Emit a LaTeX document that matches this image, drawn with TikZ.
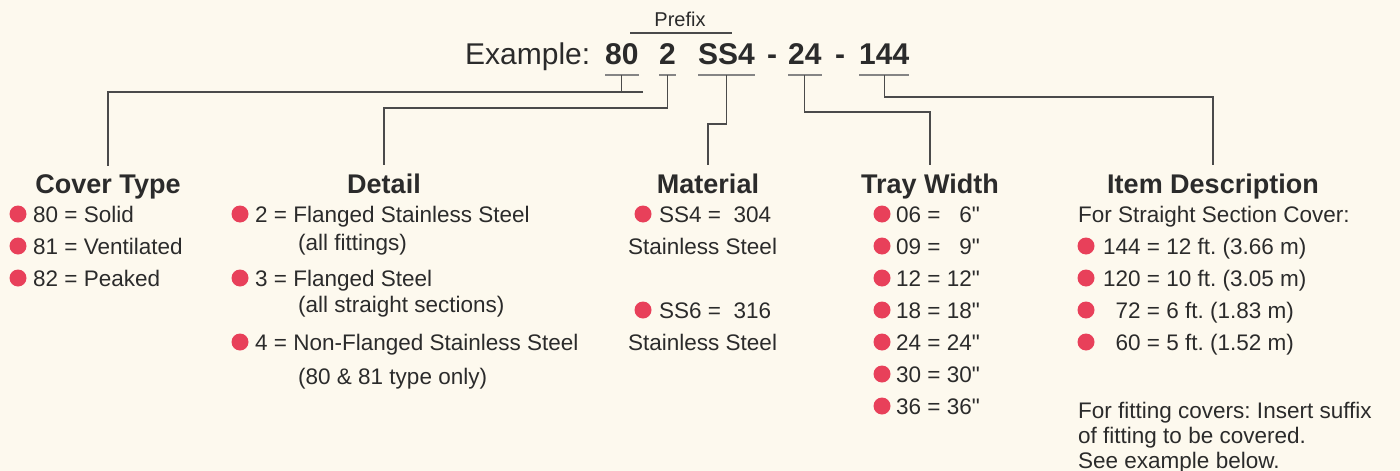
\documentclass[tikz,border=0pt]{standalone}
\usepackage{fontspec}
\setmainfont{Liberation Sans}
\newfontfamily\rawfont{Liberation Sans}
\usepackage{tikz}
\usetikzlibrary{positioning, calc}
\usepackage{xcolor}
\definecolor{paper}{HTML}{FDF9EE}
\definecolor{dotred}{HTML}{E8405A}
\definecolor{ink}{HTML}{2B2B2B}
\definecolor{rulegray}{HTML}{858585}
\newcommand{\inch}{{\rawfont\char34}}
\frenchspacing

\begin{document}
\begin{tikzpicture}[
    x=1pt, y=-1pt,
    every node/.style={inner sep=0pt, text=ink, font=\fontsize{22.5}{26}\selectfont},
    head/.style={anchor=base, inner ysep=8pt, font=\fontsize{27}{32}\selectfont\bfseries},
    code/.style={anchor=base west, font=\fontsize{30}{36}\selectfont\bfseries},
    item/.style={anchor=base west},
    dot/.style={circle, fill=dotred, minimum size=17pt},
    uline/.style={draw=rulegray, line width=1.6pt},
    conn/.style={draw=ink!85, line width=1.1pt}
]
\useasboundingbox (0,0) rectangle (1400,471);
\fill[paper] (0,0) rectangle (1400,471);

% part number
\node[anchor=base, font=\fontsize{20}{24}\selectfont] (prefix) at (680,27) {Prefix};
\node[anchor=base west, font=\fontsize{30}{36}\selectfont] (ex) at (465,64) {Example:};
\node[code] (c80) at (605,64) {80};
\node[code] (c2) at (659,64) {2};
\node[code] (cSS4) at (698,64) {SS4};
\node[code] (d1) at (767,64) {-};
\node[code] (c24) at (788,64) {24};
\node[code] (d2) at (835,64) {-};
\node[code] (c144) at (859,64) {144};
\draw[conn] ([xshift=-24pt,yshift=-6pt]prefix.base west) -- ([xshift=26pt,yshift=-6pt]prefix.base east);
\foreach \c in {c80,c2,cSS4,c24,c144}
  \draw[uline] ([yshift=-11pt]\c.base west) -- ([yshift=-11pt]\c.base east) coordinate[midway] (u\c);

% headings
\node[head] (hCover) at (108,193) {Cover Type};
\node[head] (hDetail) at (384,193) {Detail};
\node[head] (hMat) at (708,193) {Material};
\node[head] (hWidth) at (930,193) {Tray Width};
\node[head] (hItem) at (1213,193) {Item Description};

% connectors
\coordinate (k80) at (643,92);
\draw[conn] (uc80) -- (uc80 |- k80);
\draw[conn] (k80) -| (hCover.north);
\draw[conn] (uc2) -- ++(0,33) -| (hDetail.north);
\draw[conn] (ucSS4) -- ++(0,49) -| (hMat.north);
\draw[conn] (uc24) -- ++(0,37) -| (hWidth.north);
\draw[conn] (uc144) -- ++(0,22) -| (hItem.north);

% cover type
\foreach \y/\t [count=\i] in {214/80 = Solid, 246/81 = Ventilated, 278/82 = Peaked} {
  \node[dot] (cb\i) at (18,\y) {};
  \node[item] (ct\i) at (33,\y+8) {\t};
}

% detail
\foreach \y/\t [count=\i] in {214/2 = Flanged Stainless Steel, 278/3 = Flanged Steel, 342/4 = Non-Flanged Stainless Steel} {
  \node[dot] (db\i) at (240,\y) {};
  \node[item] (dt\i) at (255,\y+8) {\t};
}
\node[item] (dn1) at (298,250) {(all fittings)};
\node[item] (dn2) at (298,312) {(all straight sections)};
\node[item] (dn3) at (298,384) {(80 \& 81 type only)};

% material
\node[dot] (mb1) at (643,214) {};
\node[item] (mt1) at (659,222) {SS4 =\ \ 304};
\node[item] (mn1) at (628,254) {Stainless Steel};
\node[dot] (mb2) at (643,310) {};
\node[item] (mt2) at (659,318) {SS6 =\ \ 316};
\node[item] (mn2) at (628,350) {Stainless Steel};

% tray width
\foreach \t [count=\i] in {06 = \hphantom{0}6\inch, 09 = \hphantom{0}9\inch, 12 = 12\inch, 18 = 18\inch, 24 = 24\inch, 30 = 30\inch, 36 = 36\inch} {
  \node[dot] (wb\i) at (882,182+32*\i) {};
  \node[item] (wt\i) at (896,190+32*\i) {\t};
}

% item description
\node[item] (it0) at (1078,222) {For Straight Section Cover:};
\foreach \t [count=\i] in {144 = 12 ft. (3.66 m), 120 = 10 ft. (3.05 m), \hphantom{1}72 = 6 ft. (1.83 m), \hphantom{1}60 = 5 ft. (1.52 m)} {
  \node[dot] (ib\i) at (1086,214+32*\i) {};
  \node[item] (it\i) at (1103,222+32*\i) {\t};
}
\node[item] (if1) at (1078,418) {For fitting covers: Insert suffix};
\node[item] (if2) at (1078,443) {of fitting to be covered.};
\node[item] (if3) at (1078,468) {See example below.};
\end{tikzpicture}
\end{document}
